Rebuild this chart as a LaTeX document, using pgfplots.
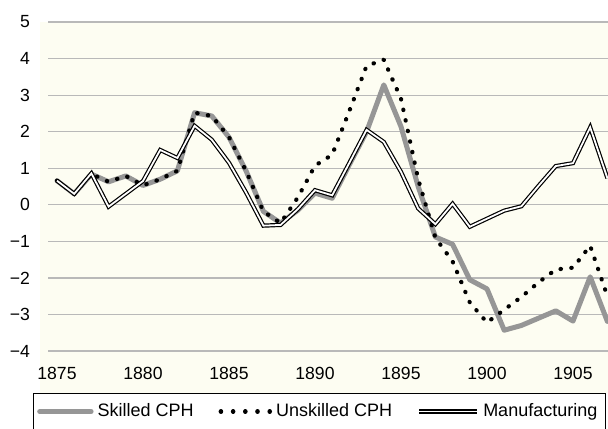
\documentclass[border=0pt]{standalone}
\usepackage{fontspec}
\setmainfont{Liberation Sans}
\usepackage{pgfplots}
\usepackage{pgfplotstable}
\pgfplotsset{compat=1.18}
\definecolor{cream}{RGB}{253,253,242}
\definecolor{skgray}{RGB}{150,150,150}
\definecolor{gridgray}{RGB}{185,185,185}
\pgfplotsset{
  geom/.style={x=8.6pt, y=18.28pt, xmin=1874.477, xmax=1907.6, ymin=-4, ymax=5,
    clip=false, at={(0,0)}, anchor=south west},
  graylegend/.style={legend image code/.code={\draw[##1] (0.3pt,0pt) -- (26pt,0pt);}},
  dotlegend/.style={legend image code/.code={\path[draw=none, fill=none] (0pt,0pt) -- (25.6pt,0pt);
     \draw[black, line width=2.1pt, line cap=round, dash pattern=on 0.2pt off 5.9pt] (1pt,0pt) -- (25.6pt,0pt);}},
  dbllegend/.style={legend image code/.code={\draw[##1] (0pt,0pt) -- (29pt,0pt);}},
}

\pgfplotstableread{
year skilled unskilled manuf
1875 0.66 0.66 0.66
1876 0.30 0.30 0.30
1877 0.84 0.84 0.86
1878 0.63 0.63 -0.05
1879 0.79 0.79 0.30
1880 0.53 0.53 0.65
1881 0.70 0.70 1.50
1882 0.93 0.93 1.28
1883 2.52 2.52 2.16
1884 2.43 2.43 1.78
1885 1.85 1.85 1.15
1886 0.92 0.92 0.33
1887 -0.18 -0.18 -0.57
1888 -0.50 -0.50 -0.55
1889 -0.15 0.20 -0.12
1890 0.32 1.07 0.40
1891 0.18 1.37 0.26
1892 1.10 2.57 1.15
1893 2.00 3.80 2.05
1894 3.28 3.97 1.72
1895 2.14 2.90 0.90
1896 0.50 0.70 -0.10
1897 -0.88 -0.90 -0.53
1898 -1.08 -1.55 0.03
1899 -2.05 -2.67 -0.60
1900 -2.30 -3.22 -0.38
1901 -3.43 -2.87 -0.16
1902 -3.30 -2.52 -0.04
1903 -3.10 -2.12 0.52
1904 -2.90 -1.77 1.06
1905 -3.18 -1.72 1.14
1906 -1.97 -1.12 2.12
1907 -3.19 -2.50 0.73
}\data

\begin{document}
\begin{tikzpicture}
% background panel
\begin{axis}[geom, hide axis]
\fill[cream] (axis cs:1874.012,5) rectangle (axis cs:1910,-5.148);
\end{axis}
% chart
\begin{axis}[
  geom,
  axis line style={draw=none},
  major tick length=0pt,
  ymajorgrids,
  grid style={gridgray, line width=0.6pt},
  xtick={1875,1880,1885,1890,1895,1900,1905},
  xticklabels={1875,1880,1885,1890,1895,1900,1905},
  ytick={-4,-3,-2,-1,0,1,2,3,4,5},
  yticklabels={−4,−3,−2,−1,0,1,2,3,4,5},
  tick label style={font=\fontsize{8.8}{10}\selectfont},
  yticklabel style={anchor=east, xshift=-5.5pt},
  xticklabel style={anchor=north, yshift=-4.5pt},
  legend columns=3,
  legend cell align=left,
  legend style={
    at={(-0.02687,-0.12756)}, anchor=north west,
    draw=black, line width=0.5pt, fill=white,
    font=\fontsize{9}{10.8}\selectfont,
    inner xsep=2pt, inner ysep=3pt,
    /tikz/every even column/.append style={column sep=10.5pt},
  },
]
\addplot[skgray, line width=2.5pt, line join=round, line cap=round, graylegend] table[x=year, y=skilled] {\data};
\addlegendentry{Skilled CPH}
\addplot[black, line width=2.1pt, line cap=round, line join=round, dash pattern=on 0.2pt off 5.2pt, dotlegend] table[x=year, y=unskilled] {\data};
\addlegendentry{Unskilled CPH}
\addplot[black, line width=0.6pt, double=white, double distance=0.9pt, dbllegend] table[x=year, y=manuf] {\data};
\addlegendentry{Manufacturing}

\coordinate (TL) at (axis cs:1871.686,5.602);
\coordinate (BR) at (axis cs:1907.035,-6.132);
\end{axis}
\pgfresetboundingbox
\useasboundingbox (TL) rectangle (BR);
\end{tikzpicture}
\end{document}
